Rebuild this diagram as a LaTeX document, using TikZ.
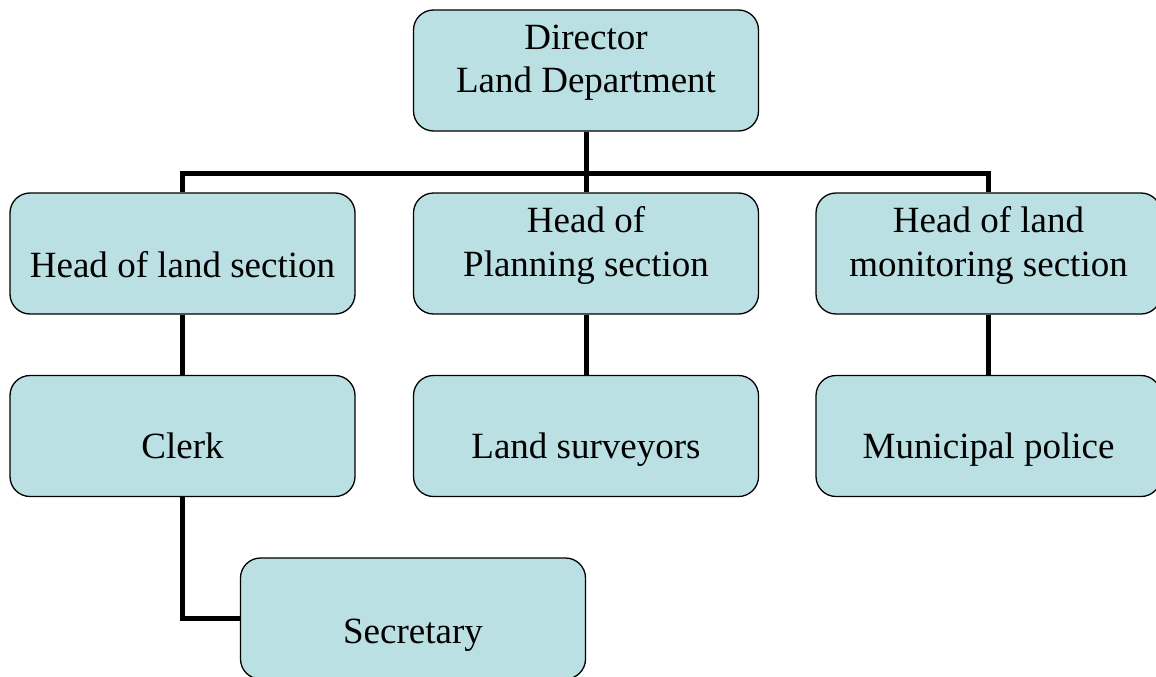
\documentclass[tikz,border=0pt]{standalone}
\usepackage{fontspec}
\setmainfont{Liberation Serif}
\usetikzlibrary{backgrounds}
\definecolor{boxfill}{RGB}{187,224,227}
\begin{document}
\begin{tikzpicture}[x=1pt,y=-1pt,
  box/.style={draw=black, line width=1.3pt, fill=boxfill, rounded corners=20pt,
    minimum width=345pt, minimum height=121pt, inner sep=0pt},
  conn/.style={line width=5pt, line join=miter},
  txt/.style={font=\fontsize{37}{43.5}\selectfont, align=center, inner sep=0pt}]
\useasboundingbox (0,0) rectangle (1156,677);
\clip (0,0) rectangle (1156,677);
% boxes
\node[box] (dir) at (586,70.5) {};
\node[box] (hls) at (182.5,253.5) {};
\node[box] (hps) at (586,253.5) {};
\node[box] (hms) at (988.5,253.5) {};
\node[box] (clk) at (182.5,436) {};
\node[box] (srv) at (586,436) {};
\node[box] (pol) at (988.5,436) {};
\node[box] (sec) at (413,618.5) {};
% texts
\node[txt] (dirT) at ([yshift=8pt]dir.center) {Director\\Land Department};
\node[txt, anchor=base] (hlsT) at ([yshift=-23.5pt]hls.center) {Head of land section};
\node[txt] (hpsT) at ([yshift=8pt]hps.center) {Head of\\Planning section};
\node[txt] (hmsT) at ([yshift=8pt]hms.center) {Head of land\\monitoring section};
\node[txt, anchor=base] (clkT) at ([yshift=-22.5pt]clk.center) {Clerk};
\node[txt, anchor=base] (srvT) at ([yshift=-22.5pt]srv.center) {Land surveyors};
\node[txt, anchor=base] (polT) at ([yshift=-22.5pt]pol.center) {Municipal police};
\node[txt, anchor=base] (secT) at ([yshift=-24.5pt]sec.center) {Secretary};
% connectors
\begin{scope}[on background layer]
\coordinate (bus) at (0,173);
\draw[conn] (dir.south) -- (dir.south |- bus);
\draw[conn] (hls.north) -- (hls.north |- bus) -- (hms.north |- bus) -- (hms.north);
\draw[conn] (hps.north) -- (hps.north |- bus);
\draw[conn] (hls.south) -- (clk.north);
\draw[conn] (hps.south) -- (srv.north);
\draw[conn] (hms.south) -- (pol.north);
\draw[conn] (clk.south) -- (clk.south |- sec.west) -- (sec.west);
\end{scope}
\end{tikzpicture}
\end{document}
